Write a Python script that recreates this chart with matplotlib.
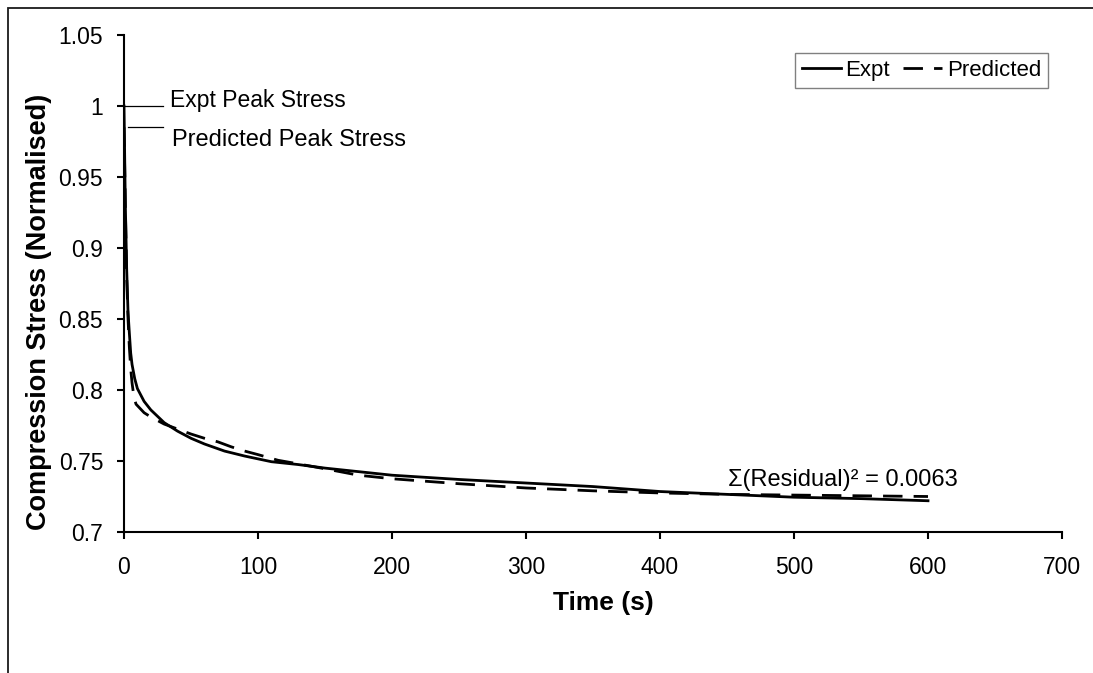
import matplotlib
matplotlib.use("Agg")
import matplotlib.pyplot as plt
from matplotlib.patches import Rectangle
from matplotlib.lines import Line2D
from matplotlib.ticker import FuncFormatter

plt.rcParams['font.family'] = ['Liberation Sans', 'DejaVu Sans']

# Data
expt_t = [0, 1, 2, 3, 4, 5, 6, 8, 10, 15, 20, 30, 40, 50, 60, 75, 90, 110, 130,
          150, 175, 200, 250, 300, 350, 400, 450, 500, 550, 600]
expt_v = [1.000, 0.930, 0.885, 0.855, 0.840, 0.826, 0.818, 0.808, 0.801, 0.792,
          0.786, 0.777, 0.771, 0.766, 0.762, 0.757, 0.7535, 0.7495, 0.7475,
          0.745, 0.7425, 0.740, 0.737, 0.7345, 0.732, 0.7285, 0.7265, 0.7245,
          0.7235, 0.722]

pred_t = [0, 1, 2, 3, 4, 5, 6, 7, 8, 9, 12, 15, 20, 30, 40, 50, 60, 70, 80, 90,
          100, 115, 130, 150, 175, 200, 250, 300, 350, 400, 450, 500, 550, 600]
pred_v = [0.985, 0.930, 0.880, 0.850, 0.830, 0.815, 0.805, 0.798, 0.793, 0.790,
          0.787, 0.784, 0.781, 0.776, 0.7725, 0.769, 0.766, 0.7635, 0.760,
          0.757, 0.7545, 0.7505, 0.748, 0.7445, 0.740, 0.7375, 0.734, 0.731,
          0.729, 0.7275, 0.7265, 0.726, 0.7255, 0.725]

x_ticks = [0, 100, 200, 300, 400, 500, 600, 700]
y_ticks = [0.7, 0.75, 0.8, 0.85, 0.9, 0.95, 1.0, 1.05]

W, H = 1093, 673
fig = plt.figure(figsize=(W / 100, H / 100), dpi=100)
fig.patch.set_facecolor('white')

# outer chart border (only top and left visible)
fig.add_artist(Rectangle((8 / W, -0.2), 1.5, 1.2 - 8 / H,
                         transform=fig.transFigure, fill=False,
                         edgecolor='#1a1a1a', lw=1.3, clip_on=False))

ax = fig.add_axes([124 / W, (H - 532) / H, 938 / W, 497 / H])
ax.set_xlim(0, 700)
ax.set_ylim(0.7, 1.05)

ax.plot(expt_t, expt_v, color='black', lw=2.0, solid_joinstyle='round',
        label='Expt')
ax.plot(pred_t, pred_v, color='black', lw=2.0, dashes=(7, 4),
        label='Predicted')

# peak annotations
ax.plot([0, 29], [1.0, 1.0], color='black', lw=0.9)
ax.plot([3, 29], [0.985, 0.985], color='black', lw=0.9)
ax.text(34.3, 0.9993, 'Expt Peak Stress', fontsize=16.5, va='baseline',
        ha='left')
ax.text(35.8, 0.9718, 'Predicted Peak Stress', fontsize=17, va='baseline',
        ha='left')
ax.text(450.7, 0.7324, 'Σ(Residual)² = 0.0063', fontsize=17, va='baseline',
        ha='left')

for s in ['top', 'right']:
    ax.spines[s].set_visible(False)
for s in ['left', 'bottom']:
    ax.spines[s].set_linewidth(1.5)
    ax.spines[s].set_color('black')

ax.set_xticks(x_ticks)
ax.set_yticks(y_ticks)
ax.yaxis.set_major_formatter(FuncFormatter(lambda v, p: '%g' % round(v, 3)))
ax.tick_params(axis='both', direction='out', length=5, width=1.5,
               labelsize=16.5, colors='black')
ax.tick_params(axis='x', pad=12)
ax.tick_params(axis='y', pad=10)

fig.text(603 / W, 1 - 603 / H, 'Time (s)', fontsize=19, fontweight='bold',
         ha='center', va='center')
fig.text(39 / W, 1 - 312 / H, 'Compression Stress (Normalised)', fontsize=19.5,
         fontweight='bold', rotation=90, ha='center', va='center')

handles = [Line2D([], [], color='black', lw=2.0),
           Line2D([], [], color='black', lw=2.0, dashes=(7, 4))]
leg = fig.legend(handles, ['Expt', 'Predicted'], ncol=2, loc='center',
                 bbox_to_anchor=((793 + 1050) / 2 / W, 1 - 70.5 / H),
                 bbox_transform=fig.transFigure, fontsize=16,
                 handlelength=1.75, handletextpad=0.2, columnspacing=0.6,
                 borderpad=0.3, fancybox=False, framealpha=1,
                 edgecolor='#808080')
leg.get_frame().set_linewidth(1.0)

fig.savefig('out.png', dpi=100, facecolor='white')
